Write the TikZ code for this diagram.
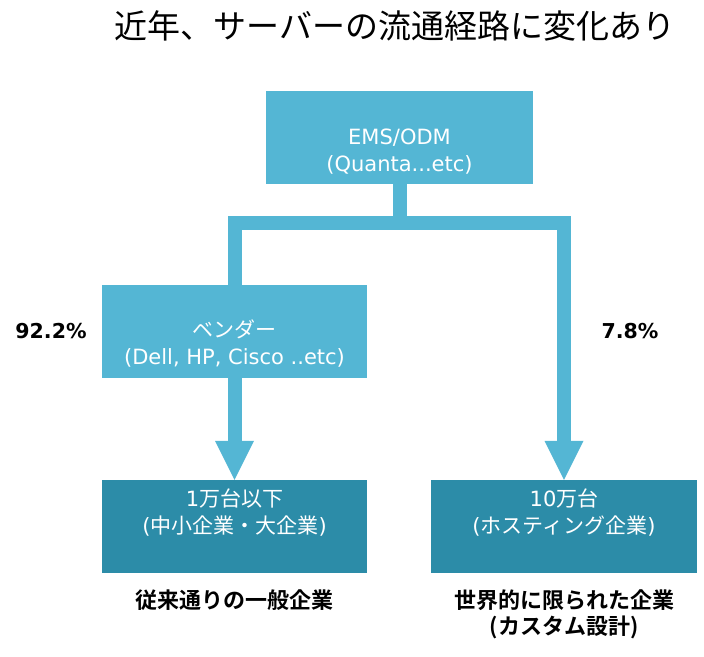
\documentclass[tikz,border=0pt]{standalone}
\usepackage{fontspec}
\setmainfont{Noto Sans CJK JP}[BoldFont={Noto Sans CJK JP Bold}]
\newfontfamily\latfont{DejaVu Sans}
\usetikzlibrary{arrows.meta,positioning}
\definecolor{cL}{RGB}{84,182,212}
\definecolor{cD}{RGB}{44,140,168}
\tikzset{mybox/.style={
  shape=rectangle,
  fill=cL,
  minimum width=265pt,
  minimum height=93pt,
  inner sep=0pt,
  }
}
\tikzset{mybox2/.style={
  mybox,
  fill=cD,
  }
}
\tikzset{boxtext/.style={
  text=white,
  align=center,
  inner sep=0pt,
  font=\fontsize{21}{27}\selectfont,
  }
}
\tikzset{pipe/.style={
  draw=cL,
  line width=14pt,
  line join=miter,
  }
}
\tikzset{note/.style={
  align=center,
  font=\fontsize{22}{26}\selectfont\bfseries,
  }
}
\tikzset{pct/.style={
  font=\latfont\fontsize{20.5}{24}\selectfont\bfseries,
  }
}

\begin{document}
\begin{tikzpicture}[x=1pt,y=-1pt]
  \useasboundingbox (0,0) rectangle (704,656);
  \node[font=\fontsize{33}{36}\selectfont] (title) at (395,26) {近年、サーバーの流通経路に変化あり};

  \node[mybox, minimum width=267pt,
    label={[boxtext, yshift=-14.5pt]center:{{\latfont EMS/ODM}\\{\latfont (Quanta...etc)}}}] (ems) at (399.5,137.5) {};
  \node[mybox,
    label={[boxtext, yshift=-11.5pt]center:{ベンダー\\{\latfont (Dell, HP, Cisco ..etc)}}}] (vendor) at (234.5,331.5) {};
  \node[mybox2,
    label={[boxtext, yshift=14pt]center:{{\latfont 1}万台以下\\{\latfont(}中小企業・大企業{\latfont)}}}] (small) at (234.5,526.5) {};
  \node[mybox2, minimum width=266pt,
    label={[boxtext, yshift=14pt]center:{{\latfont 10}万台\\{\latfont(}ホスティング企業{\latfont)}}}] (hosting) at (564,526.5) {};

  \node[pct] (share1) at (51,331) {92.2\%};
  \node[pct] (share2) at (630,331) {7.8\%};
  \node[note] (user1) at (234,600) {従来通りの一般企業};
  \node[note] (user2) at (564,614.5) {世界的に限られた企業\\(カスタム設計)};

  \coordinate (bar) at (399.5,222.5);
  \draw[pipe] (ems) -- (bar);
  \draw[pipe, -{Triangle[width=39pt,length=39pt,line width=0pt]}] (vendor) |- (bar) -| (hosting);
  \draw[pipe, -{Triangle[width=39pt,length=39pt,line width=0pt]}] (vendor) -- (small);
\end{tikzpicture}
\end{document}
